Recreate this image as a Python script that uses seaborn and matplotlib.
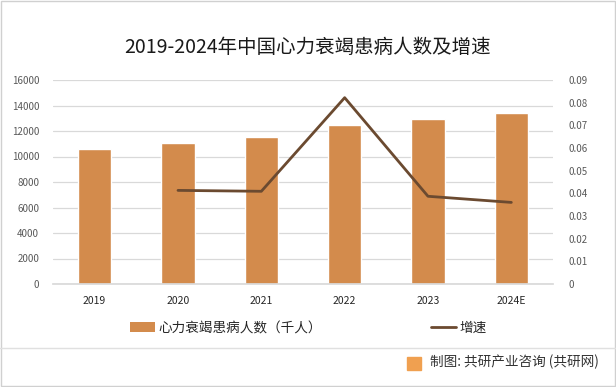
import pandas as pd
import matplotlib.pyplot as plt
import seaborn as sns
from matplotlib.patches import Patch, Rectangle
from matplotlib.lines import Line2D

# data
years = ['2019', '2020', '2021', '2022', '2023', '2024E']
patients = [10600, 11050, 11520, 12460, 12940, 13420]   # 千人
growth = [None, 0.0413, 0.0409, 0.0822, 0.0387, 0.0360]

bar_color = '#D38B4C'
line_color = '#6B4A30'

sns.set_theme(style='white')
plt.rcParams['font.family'] = ['Noto Sans CJK SC', 'DejaVu Sans']
plt.rcParams['axes.unicode_minus'] = False

df = pd.DataFrame({'year': years, 'patients': patients, 'growth': growth})

fig = plt.figure(figsize=(6.16, 3.87), dpi=100)
ax = fig.add_axes([53/616, 1 - 284/387, 500/616, 204/387])

sns.barplot(data=df, x='year', y='patients', color=bar_color, width=0.4,
            saturation=1, ax=ax)
ax.set_ylim(0, 16000)
ax.set_yticks(range(0, 16001, 2000))
ax.yaxis.grid(True, color='#D9D9D9', linewidth=0.9)
ax.set_axisbelow(True)
ax.set_xlabel('')
ax.set_ylabel('')
for s in ['left', 'right', 'top']:
    ax.spines[s].set_visible(False)
ax.spines['bottom'].set_color('#D9D9D9')
ax.tick_params(axis='y', length=0, pad=10, labelsize=7, labelcolor='#595959')
ax.tick_params(axis='x', length=0, pad=9, labelsize=7.5, labelcolor='#262626')

ax2 = ax.twinx()
d2 = df.dropna()
ax2.plot(d2['year'], d2['growth'], color=line_color, linewidth=2)
ax2.set_ylim(0, 0.09)
ax2.set_yticks([i / 100 for i in range(10)])
ax2.set_yticklabels(['0'] + [f'{i/100:.2f}' for i in range(1, 10)])
for s in ['left', 'right', 'top', 'bottom']:
    ax2.spines[s].set_visible(False)
ax2.tick_params(axis='y', length=0, pad=11, labelsize=7, labelcolor='#595959')
ax.set_xlim(-0.5, 5.5)

fig.text(0.5, 1 - 47/387, '2019-2024年中国心力衰竭患病人数及增速', ha='center',
         va='center', fontsize=14, color='#1a1a1a')

handles = [Patch(facecolor=bar_color, edgecolor='none'),
           Line2D([0], [0], color=line_color, linewidth=2)]
fig.legend(handles, ['心力衰竭患病人数（千人）', '增速'], loc='center',
           bbox_to_anchor=(0.5, 1 - 328/387), ncol=2, frameon=False,
           fontsize=9.8, columnspacing=8, handlelength=1.9, handletextpad=0.2)

fig.add_artist(Line2D([0, 1], [1 - 348/387, 1 - 348/387], color='#E0E0E0',
                      linewidth=1, transform=fig.transFigure))
fig.add_artist(Rectangle((0.002, 0.002), 0.996, 0.996, fill=False,
                         edgecolor='#D0D0D0', linewidth=1, transform=fig.transFigure))
fig.add_artist(Rectangle((407/616, 1 - 370/387), 14/616, 13/387, color='#F0A050',
                         transform=fig.transFigure))
fig.text(430/616, 1 - 362/387, '制图: 共研产业咨询 (共研网)', ha='left', va='center',
         fontsize=9.8, color='#333333')

fig.savefig('out.png', dpi=100)
